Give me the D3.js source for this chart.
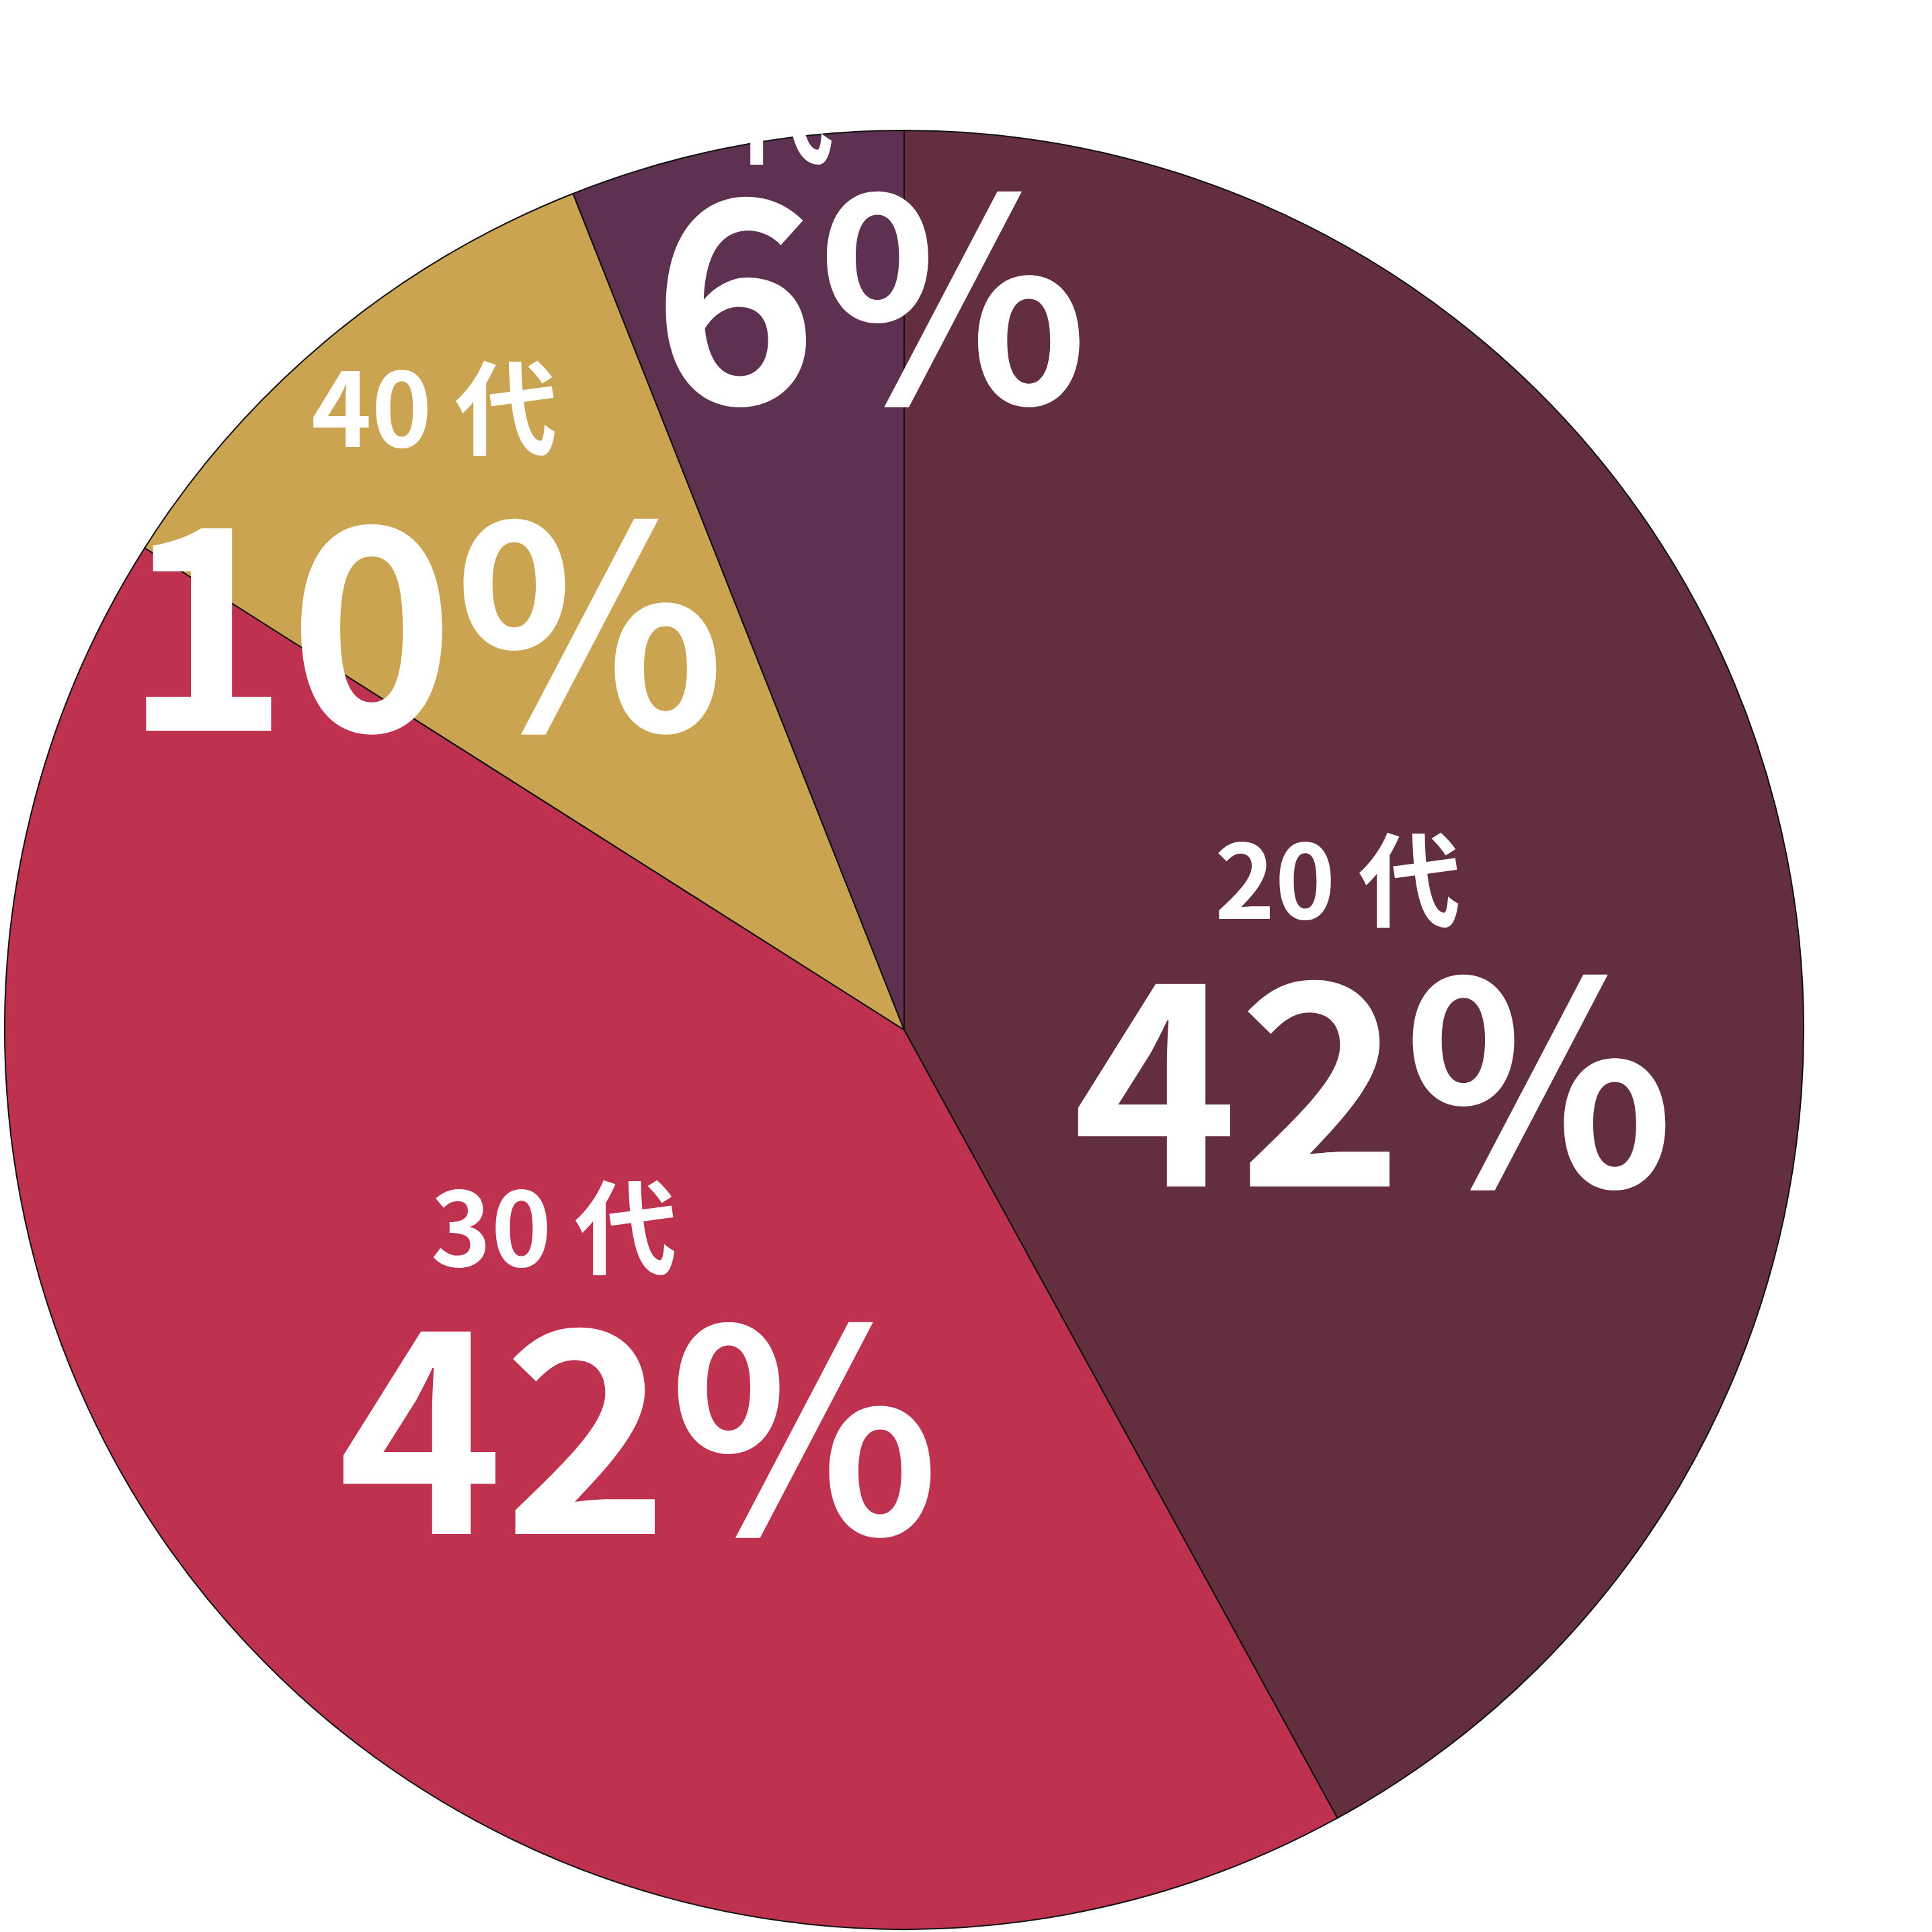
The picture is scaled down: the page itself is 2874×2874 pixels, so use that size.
<!DOCTYPE html>
<html><head><meta charset="utf-8">
<script src="https://cdn.jsdelivr.net/npm/d3@7"></script>
<style>html,body{margin:0;padding:0;background:#fff;}svg{display:block;}</style>
</head><body>
<script>
const categories = ["20代", "30代", "40代", "10代"];
const values = [42, 42, 10, 6];
const colors = ["#632F3E", "#BE3250", "#CBA452", "#5E3150"];
// label placement (px, relative to pie centre): small label start / big label start
const smallPos = [[462, -165], [-704, 352], [-882, -867], [-470, -1300]];
const bigPos   = [[250, 233], [-843, 750], [-1162, -445], [-375, -932]];

const W = 2874, H = 2874;
const cx = 1345, cy = 1532, R = 1338;
const svg = d3.select("body").append("svg").attr("width", W).attr("height", H);
const g = svg.append("g").attr("transform", `translate(${cx},${cy})`);
const pie = d3.pie().sort(null).value(d => d.v);
const data = categories.map((c, i) => ({c, v: values[i], col: colors[i], i}));
const arcs = pie(data);
const arc = d3.arc().innerRadius(0).outerRadius(R);
g.selectAll("path").data(arcs).enter().append("path")
  .attr("d", arc).attr("fill", d => d.data.col)
  .attr("stroke", "#111").attr("stroke-width", 2);

const font = "'Noto Sans CJK JP', 'Noto Sans', sans-serif";
g.selectAll("text.small").data(arcs).enter().append("text").attr("class", "small")
  .attr("x", d => smallPos[d.data.i][0]).attr("y", d => smallPos[d.data.i][1])
  .attr("fill", "#fff").attr("font-family", font).attr("font-weight", 700)
  .attr("font-size", 152)
  .text(d => d.data.c.replace(/(\d+)/, "$1 "));
g.selectAll("text.big").data(arcs).enter().append("text").attr("class", "big")
  .attr("x", d => bigPos[d.data.i][0]).attr("y", d => bigPos[d.data.i][1])
  .attr("fill", "#fff").attr("font-family", font).attr("font-weight", 700)
  .attr("font-size", 418)
  .text(d => d.data.v + "%");
</script>
</body></html>
